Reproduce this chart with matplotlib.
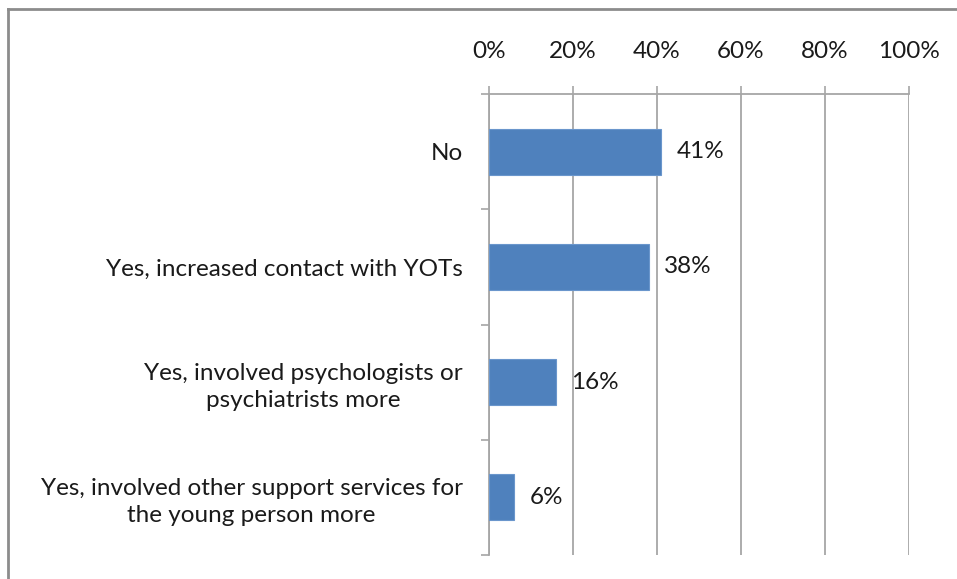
import numpy as np
import matplotlib
matplotlib.use("Agg")
import matplotlib.pyplot as plt
from matplotlib.lines import Line2D
from matplotlib.ticker import MultipleLocator, FuncFormatter

# =========================
# DATA
# =========================

categories = [
    "No",
    "Yes, increased contact with YOTs",
    "Yes, involved psychologists or\npsychiatrists more",
    "Yes, involved other support services for\nthe young person more",
]
percentages = [41, 38, 16, 6]

bar_color = "#4F81BD"
grid_color = "#A6A6A6"
text_color = "#1a1a1a"
fs = 17.5

plt.rcParams["font.family"] = ["Lato", "DejaVu Sans"]

# =========================
# FIGURE
# =========================

W, H = 957, 579
fig = plt.figure(figsize=(W / 100, H / 100), dpi=100)
ax = fig.add_axes([489 / W, 1 - 555 / H, 420 / W, (555 - 94) / H])

y = np.arange(len(categories))
ax.barh(y, percentages, height=0.4, color=bar_color, edgecolor="#6A96CC", linewidth=0.8, zorder=3)

ax.set_xlim(0, 100)
ax.set_ylim(len(categories) - 0.5, -0.5)

# percent axis along the top
ax.xaxis.tick_top()
ax.xaxis.set_major_locator(MultipleLocator(20))
ax.xaxis.set_major_formatter(FuncFormatter(lambda v, _: f"{v:.0f}%"))
ax.tick_params(axis="x", which="major", length=6, width=1.2, color=grid_color,
               pad=17, labelsize=fs, labelcolor=text_color)
ax.grid(axis="x", color=grid_color, linewidth=1.3, zorder=0)

# category labels at the centres, tick marks between categories
ax.set_yticks(y)
ax.set_yticklabels(categories, multialignment="center", linespacing=1.35)
ax.set_yticks(np.arange(len(categories) + 1) - 0.5, minor=True)
ax.tick_params(axis="y", which="major", length=0, pad=19, labelsize=fs, labelcolor=text_color)
ax.tick_params(axis="y", which="minor", length=6, width=1.2, color=grid_color)

for side in ["right", "bottom"]:
    ax.spines[side].set_visible(False)
for side in ["left", "top"]:
    ax.spines[side].set_color(grid_color)
    ax.spines[side].set_linewidth(1.3)

# value labels beside each bar
for yi, v in zip(y, percentages):
    ax.annotate(f"{v}%", xy=(v, yi), xytext=(11, 0), textcoords="offset points",
                ha="left", va="center", fontsize=fs, color=text_color)

# chart area frame (left and top edges)
fig.add_artist(Line2D([8 / W, 8 / W], [0, 1 - 9 / H], transform=fig.transFigure,
                      color="#8C8C8C", linewidth=2))
fig.add_artist(Line2D([8 / W, 1], [1 - 9 / H, 1 - 9 / H], transform=fig.transFigure,
                      color="#8C8C8C", linewidth=2))

fig.savefig("out.png", dpi=100)
